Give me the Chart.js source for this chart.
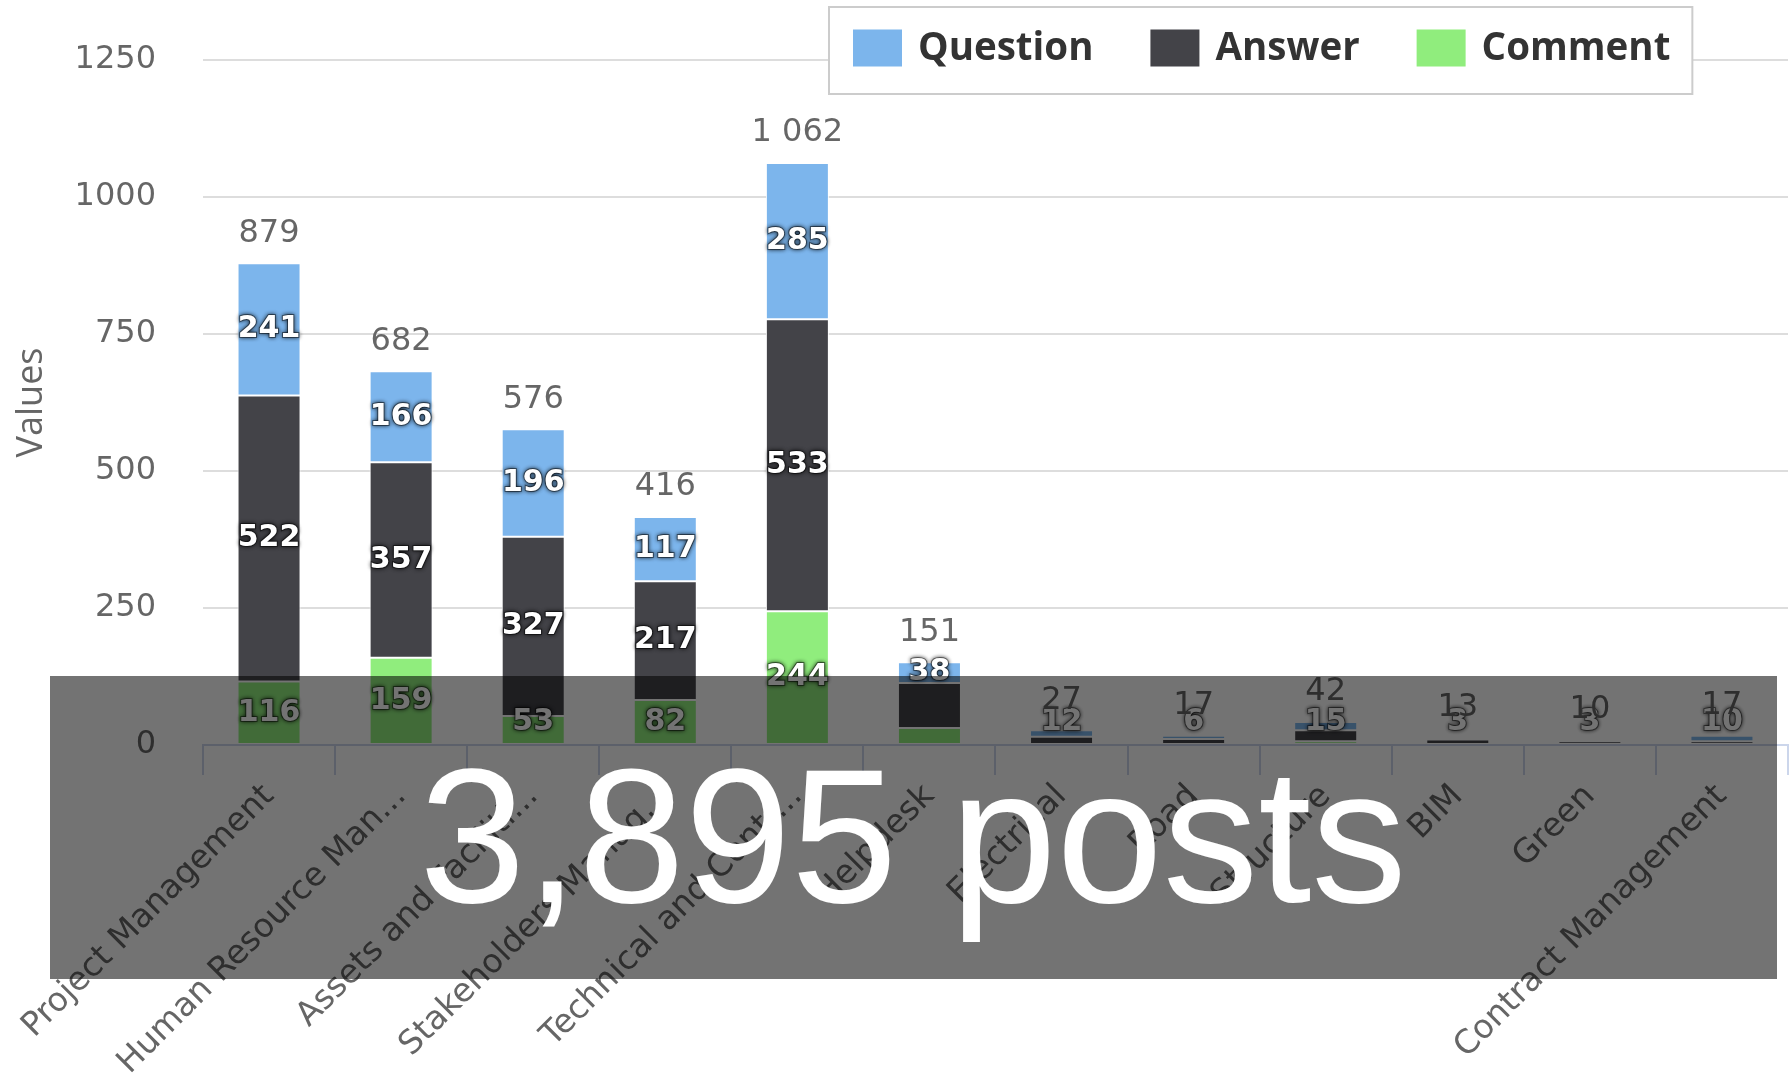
<!DOCTYPE html>
<html><head><meta charset="utf-8">
<script src="https://cdn.jsdelivr.net/npm/chart.js@4.4.0/dist/chart.umd.min.js"></script>
<style>html,body{margin:0;padding:0;background:#fff}</style>
</head><body>
<canvas id="c" width="1791" height="1081"></canvas>
<script>
const categories = ['Project Management','Human Resource Man...','Assets and Faciliti...','Stakeholders Manag...','Technical and Contr...','Helpdesk','Electrical','Road','Structure','BIM','Green','Contract Management'];
const questionValues = [241,166,196,117,285,38,12,6,15,3,3,10];
const answerValues   = [522,357,327,217,533,82,15,11,20,10,7,7];
const commentValues  = [116,159,53,82,244,31,0,0,7,0,0,0];
const yTicks = [0,250,500,750,1000,1250];
const overlayText = '3,895 posts';

function fmtThousands(v){ return String(v).replace(/\B(?=(\d{3})+(?!\d))/g,' '); }

const labelsPlugin = {
  id:'stackLabels',
  afterDatasetsDraw(chart){
    const ctx = chart.ctx, area = chart.chartArea;
    const dsets = chart.data.datasets;
    for (let i=0;i<categories.length;i++){
      const placed=[]; let first=true;
      for (let d=dsets.length-1; d>=0; d--){
        const v = dsets[d].data[i];
        const el = chart.getDatasetMeta(d).data[i];
        if (!el || !v) continue;
        const p = el.getProps(['x','y','base'], true);
        const h = Math.abs(p.base-p.y);
        let cy = Math.min((p.y+p.base)/2, area.bottom-23);
        const ok = first || (h>=28 && placed.every(q=>Math.abs(q-cy)>=46));
        first=false;
        if(!ok) continue;
        placed.push(cy);
        ctx.save();
        ctx.font='bold 30px "DejaVu Sans"';
        ctx.textAlign='center'; ctx.textBaseline='middle';
        ctx.shadowColor='rgba(0,0,0,0.85)'; ctx.shadowBlur=4;
        ctx.lineWidth=2; ctx.strokeStyle='rgba(0,0,0,0.45)';
        ctx.strokeText(String(v), p.x, cy);
        ctx.fillStyle='#ffffff';
        ctx.fillText(String(v), p.x, cy);
        ctx.restore();
      }
      const total = dsets.reduce((a,ds)=>a+(ds.data[i]||0),0);
      const x = chart.scales.x.getPixelForValue(i);
      const y = chart.scales.y.getPixelForValue(total)-30;
      ctx.save();
      ctx.font='32px "DejaVu Sans"'; ctx.fillStyle='#666666';
      ctx.textAlign='center'; ctx.textBaseline='middle';
      ctx.fillText(fmtThousands(total), x, y);
      ctx.restore();
    }
  }
};

const legendPlugin = {
  id:'boxLegend',
  afterDraw(chart){
    const ctx=chart.ctx;
    const ds=chart.data.datasets.slice().reverse();
    ctx.save();
    ctx.font='bold 38.5px "Open Sans"';
    const left=829, top=7, height=87, padL=24, box=49, boxH=37, gap=16, itemGap=57, padR=22;
    const widths=ds.map(d=>ctx.measureText(d.label).width);
    const total=padL+ds.reduce((a,d,k)=>a+box+gap+widths[k],0)+itemGap*(ds.length-1)+padR;
    ctx.fillStyle='#ffffff'; ctx.fillRect(left,top,total,height);
    ctx.strokeStyle='#cccccc'; ctx.lineWidth=2; ctx.strokeRect(left,top,total,height);
    let x=left+padL; const cy=top+41;
    ds.forEach((d,k)=>{
      ctx.fillStyle=d.backgroundColor; ctx.fillRect(x,cy-boxH/2,box,boxH);
      ctx.fillStyle='#333333'; ctx.textBaseline='middle'; ctx.textAlign='left';
      ctx.fillText(d.label,x+box+gap,cy+1);
      x+=box+gap+widths[k]+itemGap;
    });
    ctx.restore();
  }
};

const overlayPlugin = {
  id:'overlay',
  afterDraw(chart){
    const ctx=chart.ctx;
    ctx.save();
    ctx.fillStyle='rgba(0,0,0,0.55)';
    ctx.fillRect(50,676,1727,303);
    ctx.fillStyle='#ffffff';
    ctx.font='191px "Liberation Sans"';
    ctx.textAlign='center'; ctx.textBaseline='alphabetic';
    ctx.fillText(overlayText, 913, 902);
    ctx.restore();
  }
};

new Chart(document.getElementById('c'), {
  type:'bar',
  data:{
    labels:categories,
    datasets:[
      {label:'Comment', data:commentValues, backgroundColor:'#90ed7d'},
      {label:'Answer', data:answerValues, backgroundColor:'#434348'},
      {label:'Question', data:questionValues, backgroundColor:'#7cb5ec'}
    ].map(d=>Object.assign(d,{borderColor:'#ffffff',borderWidth:1,borderSkipped:false,categoryPercentage:1,barPercentage:0.477}))
  },
  options:{
    responsive:false, animation:false, devicePixelRatio:1,
    layout:{padding:{top:60,right:3,left:0,bottom:0}},
    plugins:{legend:{display:false}, tooltip:{enabled:false}},
    scales:{
      x:{
        stacked:true,
        grid:{display:true,drawOnChartArea:false,drawTicks:true,tickLength:30,color:'#ccd6eb',lineWidth:2,offset:true},
        border:{display:true,color:'#ccd6eb',width:2},
        ticks:{autoSkip:false,maxRotation:45,minRotation:45,color:'#666666',font:{family:'DejaVu Sans',size:33},padding:2},
        afterFit(s){ s.height=336; }
      },
      y:{
        stacked:true, min:0, max:1250,
        afterBuildTicks(s){ s.ticks=yTicks.map(v=>({value:v})); },
        ticks:{color:'#666666',font:{family:'DejaVu Sans',size:32},padding:5,callback:v=>String(v)},
        grid:{color:'#dddddd',lineWidth:2,drawTicks:true,tickLength:42,tickColor:'rgba(0,0,0,0)'},
        border:{display:false},
        title:{display:true,text:'Values',color:'#666666',font:{family:'Open Sans',size:36},padding:{top:10,bottom:0}},
        afterFit(s){ s.width=203; }
      }
    }
  },
  plugins:[labelsPlugin, legendPlugin, overlayPlugin]
});
</script>
</body></html>
